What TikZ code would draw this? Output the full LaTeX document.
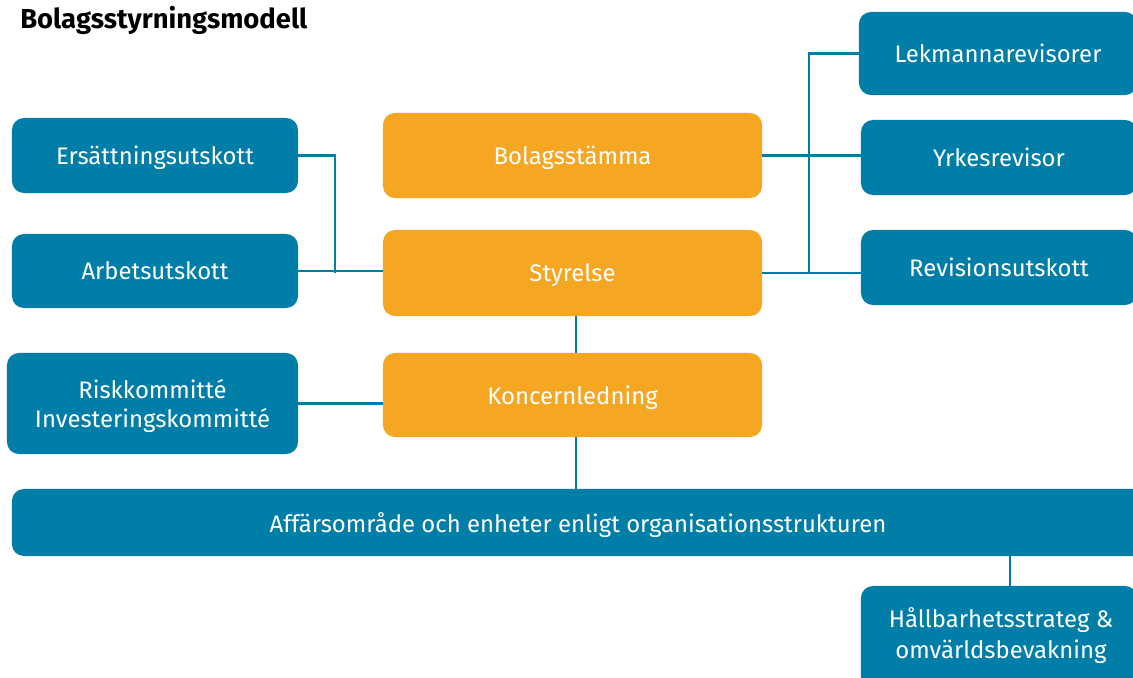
\documentclass[tikz,border=0pt]{standalone}
\usepackage{fontspec}
\setmainfont{Fira Sans}
\definecolor{orgblue}{RGB}{0,126,168}
\definecolor{orgorange}{RGB}{245,167,36}
\tikzset{
  bluebox/.style={draw=none,fill=orgblue,text=white,rounded corners=0.3cm,
    inner sep=0pt,align=center,text depth=0pt,font=\fontsize{17}{20.5}\selectfont},
  orangebox/.style={bluebox,fill=orgorange},
  link/.style={draw=orgblue,line width=1.6pt}
}
\begin{document}
\begin{tikzpicture}[x=0.025cm,y=-0.025cm]
        \clip (0,0) rectangle (1133,678);
        % Title
        \node[anchor=base west,inner sep=0pt,font=\fontsize{19.5}{23}\selectfont\bfseries] (title) at (20,28) {Bolagsstyrningsmodell};
        % Left column
        \node[bluebox,minimum width=7.15cm,minimum height=1.875cm] (ers) at (155,155.5) {Ersättningsutskott};
        \node[bluebox,minimum width=7.15cm,minimum height=1.85cm] (arb) at (155,271) {Arbetsutskott};
        \node[bluebox,minimum width=7.275cm,minimum height=2.525cm] (risk) at (152.5,403.5) {Riskkommitté\\Investeringskommitté};
        % Middle column
        \node[orangebox,minimum width=9.475cm,minimum height=2.125cm] (bol) at (572.5,155.5) {Bolagsstämma};
        \node[orangebox,minimum width=9.475cm,minimum height=2.15cm] (sty) at (572.5,273) {Styrelse};
        \node[orangebox,minimum width=9.475cm,minimum height=2.1cm] (kon) at (572.5,395) {Koncernledning};
        % Right column
        \node[bluebox,minimum width=6.95cm,minimum height=2.075cm] (lek) at (998,53.5) {Lekmannarevisorer};
        \node[bluebox,minimum width=6.9cm,minimum height=1.875cm] (yrk) at (999,157.5) {Yrkesrevisor};
        \node[bluebox,minimum width=6.9cm,minimum height=1.875cm] (rev) at (999,267.5) {Revisionsutskott};
        % Bottom row
        \node[bluebox,minimum width=28.5cm,minimum height=1.675cm] (aff) at (582,522.5) {};
        \node[text=white,text depth=0pt,font=\fontsize{17}{20.5}\selectfont] (afftext) at (578,523) {Affärsområde och enheter enligt organisationsstrukturen};
        \node[bluebox,minimum width=6.9cm,minimum height=2.7cm] (hal) at (999,640) {};
        \node[text=white,align=center,font=\fontsize{17}{22}\selectfont] (haltext) at (1001,636) {Hållbarhetsstrateg \&\\omvärldsbevakning};
        % Connectors
        \coordinate (lj) at (335,0);
        \coordinate (rj) at (809,0);
        \draw[link] (ers.east) -| (lj |- sty.west);
        \draw[link] (arb.east) -- (arb.east -| sty.west);
        \draw[link] (risk.east) -- (risk.east -| kon.west);
        \draw[link] (lek.west) -| (rj |- sty.east);
        \draw[link] (bol.east) -- (bol.east -| yrk.west);
        \draw[link] (sty.east) -- (sty.east -| rev.west);
        \draw[link] ([xshift=2.5]sty.south) -- ([xshift=2.5]kon.north);
        \draw[link] ([xshift=2.5]kon.south) -- ([xshift=2.5]kon.south |- aff.north);
        \draw[link] ([xshift=8]hal.north) -- ([xshift=8]hal.north |- aff.south);
    \end{tikzpicture}
\end{document}
